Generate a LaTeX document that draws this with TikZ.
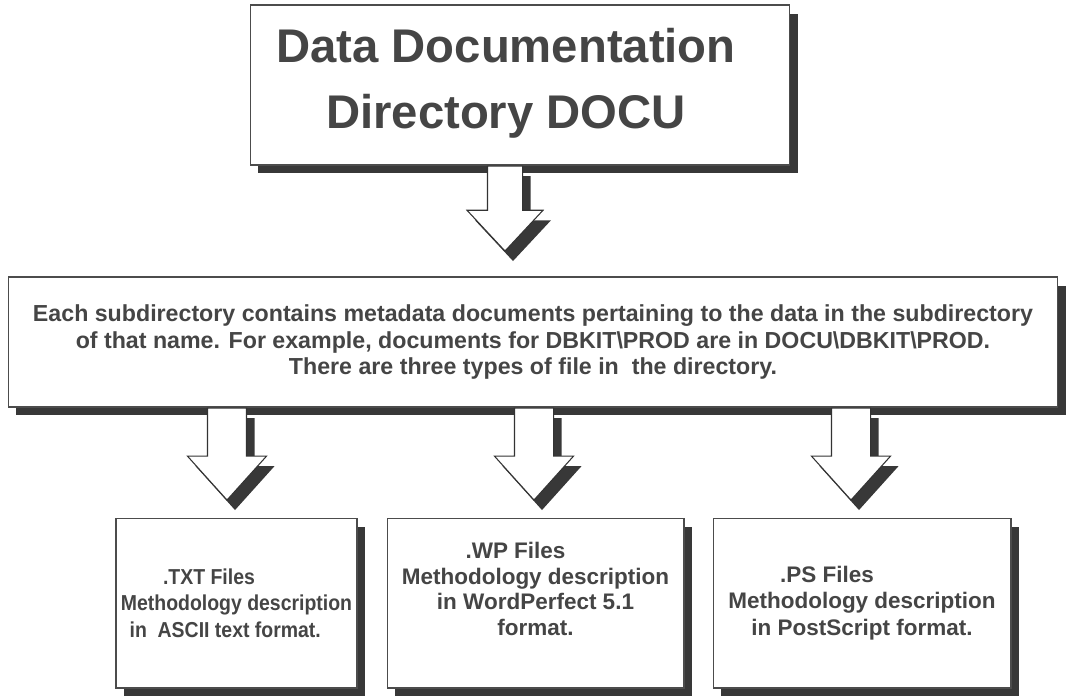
\documentclass[tikz,border=0pt]{standalone}
\usepackage{fontspec}
\setmainfont{Liberation Sans}
\newfontfamily\narrowsans{Liberation Sans}[FakeStretch=0.9]
\usepackage{tikz}
\usetikzlibrary{shapes.arrows,shadows}
\definecolor{inkgray}{HTML}{454545}
\definecolor{shadegray}{HTML}{383838}
\tikzstyle{shade} = [drop shadow={shadow xshift=0.16cm, shadow yshift=-0.17cm, fill=shadegray, opacity=1}]
\tikzstyle{box} = [draw=black!70, line width=0.6pt, fill=white, inner sep=0pt, align=center, text=inkgray, shade]
\tikzstyle{titlebox} = [box, minimum width=10.8cm, minimum height=3.2cm]
\tikzstyle{titletext} = [align=center, text=inkgray, inner sep=0pt, font=\fontsize{26.9}{37.5}\selectfont\bfseries]
\tikzstyle{notebox} = [box, minimum width=21cm, minimum height=2.6cm, font=\fontsize{13.2}{15.2}\selectfont\bfseries]
\tikzstyle{filebox} = [box, minimum height=3.4cm, font=\fontsize{12.8}{15.2}\selectfont\bfseries]
\tikzstyle{filetext} = [align=center, text=inkgray, inner sep=0pt, font=\fontsize{12.8}{14.7}\selectfont\bfseries]
\tikzstyle{bigarrow} = [single arrow, draw=black!80, line width=0.6pt, fill=white, shape border rotate=270, single arrow head indent=0pt, anchor=tail, drop shadow={shadow xshift=0.16cm, shadow yshift=-0.2cm, fill=shadegray, opacity=1}]
\tikzstyle{toparrow} = [bigarrow, inner sep=0.34cm, minimum height=1.7cm, minimum width=1.5cm, single arrow head extend=0.41cm, single arrow tip angle=86]
\tikzstyle{lowarrow} = [bigarrow, inner sep=0.38cm, minimum height=1.84cm, minimum width=1.56cm, single arrow head extend=0.4cm, single arrow tip angle=84]

\begin{document}
\begin{tikzpicture}[x=0.02cm, y=-0.02cm]
	  \useasboundingbox (0,0) rectangle (1066,698);

	  \node (title) at (520,85) [titlebox] {};
	  \node (titletext) at ([xshift=-0.28cm, yshift=0.04cm]title.center) [titletext] {Data Documentation\\Directory DOCU};
	  \node (note) at (533,342) [notebox] {Each subdirectory contains metadata documents pertaining to the data in the subdirectory\\of that name. For example, documents for DBKIT\textbackslash PROD are in DOCU\textbackslash DBKIT\textbackslash PROD.\\There are three types of file in \ the directory.};
	  \node (txt) at (236.5,603) [filebox, minimum width=4.82cm, font=\fontsize{12.3}{15.2}\selectfont\narrowsans\bfseries] {.TXT Files\hspace*{1.1cm}\\Methodology description\\in \ ASCII text format.\hspace*{0.45cm}};
	  \node (wp) at (535.5,603) [filebox, minimum width=5.94cm] {};
	  \node (wptext) at ([yshift=0.28cm]wp.center) [filetext] {.WP Files\hspace*{0.8cm}\\Methodology description\\in WordPerfect 5.1\\format.};
	  \node (ps) at (862,603) [filebox, minimum width=5.96cm] {.PS Files\hspace*{1.4cm}\\Methodology description\\in PostScript format.};

	  \node (a) at (title.south) [toparrow, xshift=-0.3cm] {};
	  \node (b) at (note.south -| txt) [lowarrow, xshift=-0.19cm] {};
	  \node (c) at (note.south -| wp) [lowarrow, xshift=-0.03cm] {};
	  \node (d) at (note.south -| ps) [lowarrow, xshift=-0.22cm] {};
\end{tikzpicture}
\end{document}
